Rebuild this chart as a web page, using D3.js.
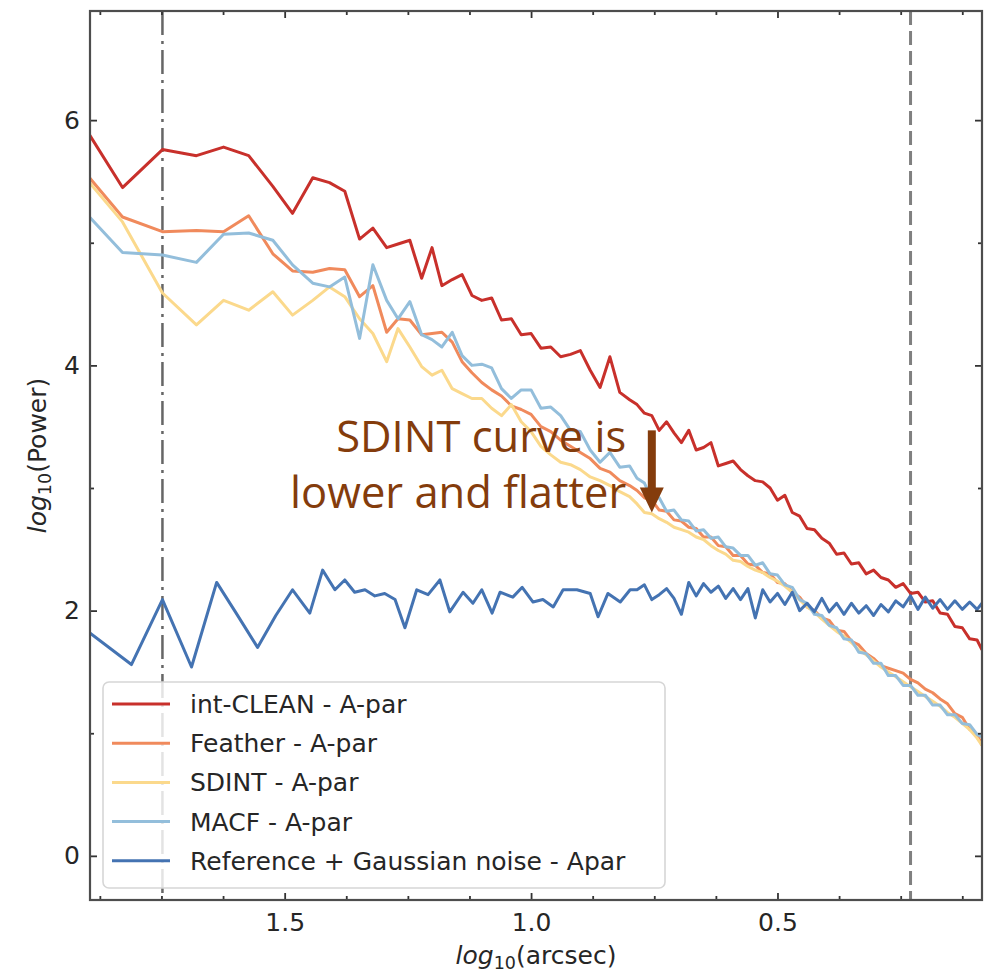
<!DOCTYPE html>
<html>
<head>
<meta charset="utf-8">
<script src="https://cdn.jsdelivr.net/npm/d3@7"></script>
<style>
  body { margin: 0; background: #fff; }
  svg { display: block; }
</style>
</head>
<body>
<svg id="chart" width="984" height="972"></svg>
<script>
// log10 of angular scale (arcsec): coarse bins at large scales, then the fine bins
const coarseScales = [1.896, 1.829, 1.748, 1.679, 1.624, 1.573, 1.524, 1.484, 1.443, 1.409,
  1.378, 1.348, 1.321, 1.293, 1.270, 1.246, 1.222, 1.201, 1.181];
const fineScales = [1.16, 1.14, 1.12, 1.10, 1.08, 1.06, 1.04, 1.02, 1.00, 0.98, 0.96, 0.94, 0.92,
  0.90, 0.88, 0.86, 0.84, 0.82, 0.80,
  0.785, 0.77, 0.755, 0.74, 0.725, 0.71, 0.695, 0.68, 0.665, 0.65, 0.635, 0.62, 0.605, 0.59,
  0.575, 0.56, 0.545, 0.53, 0.515, 0.50, 0.485, 0.47, 0.455, 0.44, 0.425, 0.41, 0.395, 0.38,
  0.365, 0.35, 0.335, 0.32, 0.305, 0.29, 0.275, 0.26, 0.245, 0.23, 0.215, 0.20, 0.185, 0.17,
  0.155, 0.14, 0.125, 0.11, 0.095, 0.085];
// the reference spectrum has its own coarse bins
const refCoarseScales = [1.896, 1.811, 1.748, 1.689, 1.638, 1.600, 1.555, 1.518, 1.484, 1.449,
  1.423, 1.398, 1.378, 1.358, 1.337, 1.317, 1.297, 1.276, 1.256, 1.232, 1.209, 1.185, 1.165,
  1.138, 1.118, 1.100, 1.079, 1.063, 1.037, 1.018, 0.996, 0.976, 0.955, 0.935, 0.907, 0.880,
  0.864, 0.844, 0.819, 0.799];

// log10(Power) per method
const intCleanPower = [5.88, 5.45, 5.76, 5.71, 5.78, 5.71, 5.46, 5.24, 5.53, 5.49, 5.42, 5.03,
  5.12, 4.96, 4.99, 5.02, 4.71, 4.96, 4.65,
  4.70, 4.74, 4.57, 4.53, 4.55, 4.37, 4.38, 4.25, 4.26, 4.14, 4.15, 4.07, 4.09, 4.12, 3.96, 3.82,
  4.07, 3.78, 3.72,
  3.68, 3.61, 3.59, 3.47, 3.54, 3.45, 3.37, 3.47, 3.31, 3.33, 3.37, 3.18, 3.20, 3.22, 3.15, 3.10,
  3.06, 3.05, 3.00, 2.90, 2.94, 2.80, 2.77, 2.67, 2.66, 2.59, 2.55, 2.46, 2.47, 2.38, 2.39, 2.30,
  2.33, 2.27, 2.25, 2.19, 2.22, 2.14, 2.15, 2.07, 2.08, 1.98, 1.97, 1.87, 1.86, 1.77, 1.76, 1.68];
const featherPower = [5.53, 5.21, 5.09, 5.10, 5.09, 5.22, 4.91, 4.77, 4.76, 4.79, 4.78, 4.56,
  4.65, 4.27, 4.38, 4.37, 4.25, 4.26, 4.27,
  4.19, 4.03, 3.94, 3.86, 3.80, 3.75, 3.67, 3.64, 3.60, 3.50, 3.46, 3.39, 3.34, 3.29, 3.24, 3.16,
  3.13, 3.06, 3.02,
  2.98, 2.92, 2.90, 2.82, 2.81, 2.74, 2.73, 2.68, 2.67, 2.60, 2.60, 2.53, 2.52, 2.45, 2.45, 2.38,
  2.37, 2.31, 2.30, 2.23, 2.22, 2.15, 2.11, 2.03, 2.00, 1.94, 1.92, 1.84, 1.83, 1.75, 1.72, 1.65,
  1.61, 1.55, 1.53, 1.51, 1.49, 1.44, 1.41, 1.36, 1.33, 1.28, 1.24, 1.16, 1.13, 1.03, 0.99, 0.90];
const sdintPower = [5.49, 5.17, 4.59, 4.33, 4.53, 4.45, 4.60, 4.41, 4.53, 4.64, 4.56, 4.38,
  4.26, 4.03, 4.30, 4.15, 3.99, 3.92, 3.96,
  3.81, 3.77, 3.73, 3.73, 3.65, 3.59, 3.68, 3.54, 3.46, 3.34, 3.27, 3.21, 3.19, 3.15, 3.09, 3.06,
  3.02, 2.97, 2.93,
  2.87, 2.80, 2.79, 2.75, 2.72, 2.68, 2.66, 2.64, 2.60, 2.58, 2.53, 2.49, 2.46, 2.41, 2.40, 2.36,
  2.33, 2.31, 2.27, 2.24, 2.20, 2.15, 2.09, 2.03, 1.99, 1.93, 1.88, 1.83, 1.79, 1.74, 1.68, 1.64,
  1.59, 1.54, 1.50, 1.46, 1.42, 1.38, 1.34, 1.30, 1.26, 1.22, 1.17, 1.13, 1.08, 1.03, 0.96, 0.90];
const macfPower = [5.21, 4.92, 4.90, 4.84, 5.07, 5.08, 5.02, 4.82, 4.67, 4.64, 4.72, 4.22,
  4.82, 4.53, 4.38, 4.52, 4.25, 4.21, 4.15,
  4.27, 4.08, 4.00, 4.01, 3.98, 3.81, 3.73, 3.80, 3.80, 3.65, 3.66, 3.59, 3.47, 3.46, 3.31, 3.21,
  3.29, 3.17, 3.18,
  3.08, 3.04, 2.91, 2.92, 2.81, 2.82, 2.74, 2.73, 2.65, 2.66, 2.59, 2.60, 2.52, 2.51, 2.45, 2.45,
  2.37, 2.39, 2.30, 2.29, 2.21, 2.19, 2.09, 2.06, 1.97, 1.96, 1.88, 1.86, 1.77, 1.76, 1.66, 1.65,
  1.57, 1.57, 1.47, 1.47, 1.39, 1.39, 1.31, 1.31, 1.23, 1.23, 1.15, 1.15, 1.08, 1.07, 0.99, 0.97];
const referencePower = [1.82, 1.56, 2.09, 1.54, 2.23, 1.99, 1.70, 1.96, 2.17, 1.98,
  2.33, 2.17, 2.25, 2.15, 2.17, 2.12, 2.14, 2.09, 1.86, 2.17,
  2.13, 2.25, 1.99, 2.15, 2.06, 2.17, 1.98, 2.15, 2.11, 2.19,
  2.07, 2.09, 2.03, 2.17, 2.17, 2.14, 1.95, 2.14, 2.07, 2.17,
  2.17, 2.21, 2.09, 2.13, 2.18, 2.10, 1.97, 2.23, 2.12, 2.22, 2.15, 2.20, 2.10, 2.18, 2.09, 2.18,
  1.94, 2.17, 2.07, 2.14, 2.05, 2.15, 2.00, 2.06, 1.99, 2.10, 1.99, 2.06, 1.97, 2.06, 1.98, 2.04,
  1.96, 2.05, 1.99, 2.08, 2.03, 2.12, 2.01, 2.11, 2.02, 2.09, 2.01, 2.08, 2.01, 2.07, 2.01, 2.06];

const seriesNames = ["int-CLEAN - A-par", "Feather - A-par", "SDINT - A-par", "MACF - A-par",
  "Reference + Gaussian noise - Apar"];
const seriesColors = ["#c8302b", "#f08a5c", "#fbd98c", "#93bedb", "#4473b2"];

const xTicks = [1.5, 1.0, 0.5];
const yTicks = [0, 2, 4, 6];
const xMinorTicks = [1.875, 1.75, 1.625, 1.375, 1.25, 1.125, 0.875, 0.75, 0.625, 0.375, 0.25, 0.125];
const yMinorTicks = [1, 3, 5];
// resolution limits marked with vertical lines
const dashDotScale = 1.748;
const dashedScale = 0.23;

const svg = d3.select("#chart");
const plotLeft = 90, plotRight = 982, plotTop = 11, plotBottom = 900;

const x = d3.scaleLinear().domain([1.895, 0.085]).range([plotLeft, plotRight]);
const y = d3.scaleLinear().domain([-0.36, 6.89]).range([plotBottom, plotTop]);

const fontFamily = "'DejaVu Sans', sans-serif";
const fontSize = 25;

const methodScales = coarseScales.concat(fineScales);
const refScales = refCoarseScales.concat(fineScales.slice(19));
const series = [
  { name: seriesNames[0], color: seriesColors[0], xs: methodScales, ys: intCleanPower },
  { name: seriesNames[1], color: seriesColors[1], xs: methodScales, ys: featherPower },
  { name: seriesNames[2], color: seriesColors[2], xs: methodScales, ys: sdintPower },
  { name: seriesNames[3], color: seriesColors[3], xs: methodScales, ys: macfPower },
  { name: seriesNames[4], color: seriesColors[4], xs: refScales, ys: referencePower }
];

svg.append("defs").append("clipPath").attr("id", "plotClip")
  .append("rect").attr("x", plotLeft).attr("y", plotTop)
  .attr("width", plotRight - plotLeft).attr("height", plotBottom - plotTop);

// vertical reference lines
const vlines = svg.append("g").attr("clip-path", "url(#plotClip)");
vlines.append("line")
  .attr("x1", x(dashDotScale)).attr("x2", x(dashDotScale))
  .attr("y1", plotTop).attr("y2", plotBottom)
  .attr("stroke", "#666").attr("stroke-width", 2.5)
  .attr("stroke-dasharray", "24,6,3,6");
vlines.append("line")
  .attr("x1", x(dashedScale)).attr("x2", x(dashedScale))
  .attr("y1", plotTop).attr("y2", plotBottom)
  .attr("stroke", "#808080").attr("stroke-width", 3)
  .attr("stroke-dasharray", "14,6");

// spectra
const line = d3.line().x(d => x(d[0])).y(d => y(d[1]));
const curves = svg.append("g").attr("clip-path", "url(#plotClip)");
series.forEach(s => {
  curves.append("path")
    .datum(s.xs.map((v, i) => [v, s.ys[i]]))
    .attr("d", line)
    .attr("fill", "none")
    .attr("stroke", s.color)
    .attr("stroke-width", 3)
    .attr("stroke-linejoin", "round");
});

// axes: inward ticks on all four sides
function styleAxis(g) {
  g.select(".domain").remove();
  g.selectAll(".tick line").attr("stroke", "#333").attr("stroke-width", 1.8);
  g.selectAll(".tick text").attr("font-family", fontFamily).attr("font-size", fontSize).attr("fill", "#262626");
}
svg.append("g").attr("transform", `translate(0,${plotBottom})`)
  .call(d3.axisBottom(x).tickValues(xTicks).tickSize(-7).tickPadding(13).tickFormat(d3.format(".1f")))
  .call(styleAxis);
svg.append("g").attr("transform", `translate(0,${plotBottom})`)
  .call(d3.axisBottom(x).tickValues(xMinorTicks).tickSize(-4).tickFormat(""))
  .call(styleAxis);
svg.append("g").attr("transform", `translate(0,${plotTop})`)
  .call(d3.axisTop(x).tickValues(xTicks).tickSize(-7).tickFormat(""))
  .call(styleAxis);
svg.append("g").attr("transform", `translate(0,${plotTop})`)
  .call(d3.axisTop(x).tickValues(xMinorTicks).tickSize(-4).tickFormat(""))
  .call(styleAxis);
svg.append("g").attr("transform", `translate(${plotLeft},0)`)
  .call(d3.axisLeft(y).tickValues(yTicks).tickSize(-7).tickPadding(10).tickFormat(d3.format("d")))
  .call(styleAxis);
svg.append("g").attr("transform", `translate(${plotLeft},0)`)
  .call(d3.axisLeft(y).tickValues(yMinorTicks).tickSize(-4).tickFormat(""))
  .call(styleAxis);
svg.append("g").attr("transform", `translate(${plotRight},0)`)
  .call(d3.axisRight(y).tickValues(yTicks).tickSize(-7).tickFormat(""))
  .call(styleAxis);
svg.append("g").attr("transform", `translate(${plotRight},0)`)
  .call(d3.axisRight(y).tickValues(yMinorTicks).tickSize(-4).tickFormat(""))
  .call(styleAxis);

// frame
svg.append("rect")
  .attr("x", plotLeft).attr("y", plotTop).attr("width", plotRight - plotLeft).attr("height", plotBottom - plotTop)
  .attr("fill", "none").attr("stroke", "#4d4d4d").attr("stroke-width", 2.2);

// axis labels
const xLabel = svg.append("text")
  .attr("x", (plotLeft + plotRight) / 2).attr("y", 964)
  .attr("text-anchor", "middle")
  .attr("font-family", fontFamily).attr("font-size", fontSize).attr("fill", "#262626");
xLabel.append("tspan").attr("font-style", "italic").text("log");
xLabel.append("tspan").attr("font-size", 17.5).attr("dy", 5).text("10");
xLabel.append("tspan").attr("dy", -5).text("(arcsec)");

const yLabel = svg.append("text")
  .attr("transform", `translate(46,${(plotTop + plotBottom) / 2}) rotate(-90)`)
  .attr("text-anchor", "middle")
  .attr("font-family", fontFamily).attr("font-size", fontSize).attr("fill", "#262626");
yLabel.append("tspan").attr("font-style", "italic").text("log");
yLabel.append("tspan").attr("font-size", 17.5).attr("dy", 5).text("10");
yLabel.append("tspan").attr("dy", -5).text("(Power)");

// legend
const legend = svg.append("g");
legend.append("rect")
  .attr("x", 103).attr("y", 682).attr("width", 562).attr("height", 206)
  .attr("rx", 6).attr("ry", 6)
  .attr("fill", "#fff").attr("fill-opacity", 0.82)
  .attr("stroke", "#d6d6d6").attr("stroke-width", 1.6);
series.forEach((s, i) => {
  const cy = 704 + i * 39.2;
  legend.append("line")
    .attr("x1", 112).attr("x2", 170).attr("y1", cy).attr("y2", cy)
    .attr("stroke", s.color).attr("stroke-width", 3);
  legend.append("text")
    .attr("x", 190).attr("y", cy).attr("dy", "0.36em")
    .attr("font-family", fontFamily).attr("font-size", fontSize).attr("fill", "#262626")
    .text(s.name);
});

// annotation pointing at the SDINT curve
const noteColor = "#843c0c";
const noteFont = "'Open Sans', 'Noto Sans', sans-serif";
const note = svg.append("g");
const noteX = 0.807;
note.append("text")
  .attr("x", x(noteX)).attr("y", y(3.29))
  .attr("text-anchor", "end")
  .attr("font-family", noteFont).attr("font-size", 43.5)
  .attr("fill", noteColor)
  .text("SDINT curve is");
note.append("text")
  .attr("x", x(noteX)).attr("y", y(2.84))
  .attr("text-anchor", "end")
  .attr("font-family", noteFont).attr("font-size", 43.5)
  .attr("fill", noteColor)
  .text("lower and flatter");

const arrowX = x(0.755);
const arrowTop = y(3.47);
const arrowTip = y(2.80);
note.append("line")
  .attr("x1", arrowX).attr("x2", arrowX)
  .attr("y1", arrowTop).attr("y2", arrowTip - 20)
  .attr("stroke", noteColor).attr("stroke-width", 8);
note.append("path")
  .attr("d", `M${arrowX - 12},${arrowTip - 25} L${arrowX + 12},${arrowTip - 25} L${arrowX},${arrowTip} Z`)
  .attr("fill", noteColor);
</script>
</body>
</html>
